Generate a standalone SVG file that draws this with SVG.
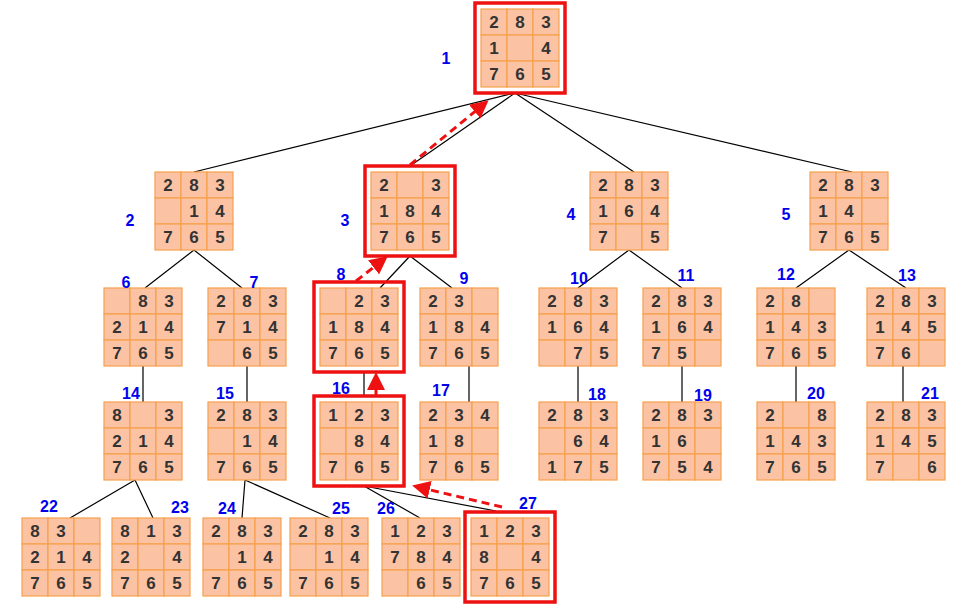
<svg xmlns="http://www.w3.org/2000/svg" width="975" height="610" viewBox="0 0 975 610">
<defs>
<style>
.c{fill:#fbc2a4;stroke:#f7a04c;stroke-width:1.2}
.t{font-family:"Liberation Sans",Arial,sans-serif;font-weight:bold;font-size:17px;fill:#333;text-anchor:middle}
.l{font-family:"Liberation Sans",Arial,sans-serif;font-weight:bold;font-size:16px;fill:#0000ee;text-anchor:middle}
.hl{fill:none;stroke:#ee1111;stroke-width:3.5}
.e{stroke:#000;stroke-width:1.2;fill:none}
.d{stroke:#ee1111;stroke-width:3;stroke-dasharray:8,5;fill:none;marker-end:url(#ah)}
</style>
<marker id="ah" markerWidth="6" markerHeight="6" refX="4" refY="3" orient="auto" markerUnits="strokeWidth"><path d="M0,0L6,3L0,6Z" fill="#ee1111"/></marker>
<g id="cell">
<rect class="c" x="0" y="0" width="26" height="26"/><rect class="c" x="26" y="0" width="26" height="26"/><rect class="c" x="52" y="0" width="26" height="26"/>
<rect class="c" x="0" y="26" width="26" height="26"/><rect class="c" x="26" y="26" width="26" height="26"/><rect class="c" x="52" y="26" width="26" height="26"/>
<rect class="c" x="0" y="52" width="26" height="26"/><rect class="c" x="26" y="52" width="26" height="26"/><rect class="c" x="52" y="52" width="26" height="26"/>
</g>
</defs>
<rect width="975" height="610" fill="#fff"/>
<g id="connectors">
<path class="e" d="M515,93L194,172M515,93L410,166M515,93L634,172M515,93L852,172"/>
<path class="e" d="M194,250L145,288M194,250L242,288M410,256L380,288M410,256L452,288M629,250L578,288M629,250L682,288M849,250L796,288M849,250L906,288"/>
<path class="e" d="M143,366V402M247,366V402M364,372V396M469,366V402M578,366V402M682,366V402M796,366V402M903,366V402"/>
<path class="e" d="M135,480L70,518M135,480L153,518M245,480L242,518M245,480L330,518M364,486L420,518M364,486L496,511"/>
<path class="d" d="M502,507L418,487"/>
<path class="d" d="M376,397L376,378"/>
<path class="d" d="M356,281L383,260"/>
<path class="d" d="M410,165L484,104"/>
</g>
<g id="n1"><use href="#cell" x="481" y="9"/><rect class="hl" x="475" y="3" width="90" height="90"/><text class="t" x="494" y="28">2</text><text class="t" x="520" y="28">8</text><text class="t" x="546" y="28">3</text><text class="t" x="494" y="54">1</text><text class="t" x="546" y="54">4</text><text class="t" x="494" y="80">7</text><text class="t" x="520" y="80">6</text><text class="t" x="546" y="80">5</text><text class="l" x="446" y="64">1</text></g>
<g id="n2"><use href="#cell" x="155" y="172"/><text class="t" x="168" y="191">2</text><text class="t" x="194" y="191">8</text><text class="t" x="220" y="191">3</text><text class="t" x="194" y="217">1</text><text class="t" x="220" y="217">4</text><text class="t" x="168" y="243">7</text><text class="t" x="194" y="243">6</text><text class="t" x="220" y="243">5</text><text class="l" x="130" y="226">2</text></g>
<g id="n3"><use href="#cell" x="371" y="172"/><rect class="hl" x="365" y="166" width="90" height="90"/><text class="t" x="384" y="191">2</text><text class="t" x="436" y="191">3</text><text class="t" x="384" y="217">1</text><text class="t" x="410" y="217">8</text><text class="t" x="436" y="217">4</text><text class="t" x="384" y="243">7</text><text class="t" x="410" y="243">6</text><text class="t" x="436" y="243">5</text><text class="l" x="345" y="226">3</text></g>
<g id="n4"><use href="#cell" x="590" y="172"/><text class="t" x="603" y="191">2</text><text class="t" x="629" y="191">8</text><text class="t" x="655" y="191">3</text><text class="t" x="603" y="217">1</text><text class="t" x="629" y="217">6</text><text class="t" x="655" y="217">4</text><text class="t" x="603" y="243">7</text><text class="t" x="655" y="243">5</text><text class="l" x="571" y="220">4</text></g>
<g id="n5"><use href="#cell" x="810" y="172"/><text class="t" x="823" y="191">2</text><text class="t" x="849" y="191">8</text><text class="t" x="875" y="191">3</text><text class="t" x="823" y="217">1</text><text class="t" x="849" y="217">4</text><text class="t" x="823" y="243">7</text><text class="t" x="849" y="243">6</text><text class="t" x="875" y="243">5</text><text class="l" x="786" y="220">5</text></g>
<g id="n6"><use href="#cell" x="104" y="288"/><text class="t" x="143" y="307">8</text><text class="t" x="169" y="307">3</text><text class="t" x="117" y="333">2</text><text class="t" x="143" y="333">1</text><text class="t" x="169" y="333">4</text><text class="t" x="117" y="359">7</text><text class="t" x="143" y="359">6</text><text class="t" x="169" y="359">5</text><text class="l" x="126" y="288">6</text></g>
<g id="n7"><use href="#cell" x="208" y="288"/><text class="t" x="221" y="307">2</text><text class="t" x="247" y="307">8</text><text class="t" x="273" y="307">3</text><text class="t" x="221" y="333">7</text><text class="t" x="247" y="333">1</text><text class="t" x="273" y="333">4</text><text class="t" x="247" y="359">6</text><text class="t" x="273" y="359">5</text><text class="l" x="254" y="288">7</text></g>
<g id="n8"><use href="#cell" x="320" y="288"/><rect class="hl" x="314" y="282" width="90" height="90"/><text class="t" x="359" y="307">2</text><text class="t" x="385" y="307">3</text><text class="t" x="333" y="333">1</text><text class="t" x="359" y="333">8</text><text class="t" x="385" y="333">4</text><text class="t" x="333" y="359">7</text><text class="t" x="359" y="359">6</text><text class="t" x="385" y="359">5</text><text class="l" x="341" y="280">8</text></g>
<g id="n9"><use href="#cell" x="420" y="288"/><text class="t" x="433" y="307">2</text><text class="t" x="459" y="307">3</text><text class="t" x="433" y="333">1</text><text class="t" x="459" y="333">8</text><text class="t" x="485" y="333">4</text><text class="t" x="433" y="359">7</text><text class="t" x="459" y="359">6</text><text class="t" x="485" y="359">5</text><text class="l" x="464" y="284">9</text></g>
<g id="n10"><use href="#cell" x="539" y="288"/><text class="t" x="552" y="307">2</text><text class="t" x="578" y="307">8</text><text class="t" x="604" y="307">3</text><text class="t" x="552" y="333">1</text><text class="t" x="578" y="333">6</text><text class="t" x="604" y="333">4</text><text class="t" x="578" y="359">7</text><text class="t" x="604" y="359">5</text><text class="l" x="579" y="284">10</text></g>
<g id="n11"><use href="#cell" x="643" y="288"/><text class="t" x="656" y="307">2</text><text class="t" x="682" y="307">8</text><text class="t" x="708" y="307">3</text><text class="t" x="656" y="333">1</text><text class="t" x="682" y="333">6</text><text class="t" x="708" y="333">4</text><text class="t" x="656" y="359">7</text><text class="t" x="682" y="359">5</text><text class="l" x="686" y="281">11</text></g>
<g id="n12"><use href="#cell" x="757" y="288"/><text class="t" x="770" y="307">2</text><text class="t" x="796" y="307">8</text><text class="t" x="770" y="333">1</text><text class="t" x="796" y="333">4</text><text class="t" x="822" y="333">3</text><text class="t" x="770" y="359">7</text><text class="t" x="796" y="359">6</text><text class="t" x="822" y="359">5</text><text class="l" x="786" y="280">12</text></g>
<g id="n13"><use href="#cell" x="867" y="288"/><text class="t" x="880" y="307">2</text><text class="t" x="906" y="307">8</text><text class="t" x="932" y="307">3</text><text class="t" x="880" y="333">1</text><text class="t" x="906" y="333">4</text><text class="t" x="932" y="333">5</text><text class="t" x="880" y="359">7</text><text class="t" x="906" y="359">6</text><text class="l" x="907" y="281">13</text></g>
<g id="n14"><use href="#cell" x="104" y="402"/><text class="t" x="117" y="421">8</text><text class="t" x="169" y="421">3</text><text class="t" x="117" y="447">2</text><text class="t" x="143" y="447">1</text><text class="t" x="169" y="447">4</text><text class="t" x="117" y="473">7</text><text class="t" x="143" y="473">6</text><text class="t" x="169" y="473">5</text><text class="l" x="131" y="399">14</text></g>
<g id="n15"><use href="#cell" x="208" y="402"/><text class="t" x="221" y="421">2</text><text class="t" x="247" y="421">8</text><text class="t" x="273" y="421">3</text><text class="t" x="247" y="447">1</text><text class="t" x="273" y="447">4</text><text class="t" x="221" y="473">7</text><text class="t" x="247" y="473">6</text><text class="t" x="273" y="473">5</text><text class="l" x="225" y="399">15</text></g>
<g id="n16"><use href="#cell" x="320" y="402"/><rect class="hl" x="314" y="396" width="90" height="90"/><text class="t" x="333" y="421">1</text><text class="t" x="359" y="421">2</text><text class="t" x="385" y="421">3</text><text class="t" x="359" y="447">8</text><text class="t" x="385" y="447">4</text><text class="t" x="333" y="473">7</text><text class="t" x="359" y="473">6</text><text class="t" x="385" y="473">5</text><text class="l" x="341" y="394">16</text></g>
<g id="n17"><use href="#cell" x="420" y="402"/><text class="t" x="433" y="421">2</text><text class="t" x="459" y="421">3</text><text class="t" x="485" y="421">4</text><text class="t" x="433" y="447">1</text><text class="t" x="459" y="447">8</text><text class="t" x="433" y="473">7</text><text class="t" x="459" y="473">6</text><text class="t" x="485" y="473">5</text><text class="l" x="441" y="396">17</text></g>
<g id="n18"><use href="#cell" x="539" y="402"/><text class="t" x="552" y="421">2</text><text class="t" x="578" y="421">8</text><text class="t" x="604" y="421">3</text><text class="t" x="578" y="447">6</text><text class="t" x="604" y="447">4</text><text class="t" x="552" y="473">1</text><text class="t" x="578" y="473">7</text><text class="t" x="604" y="473">5</text><text class="l" x="597" y="400">18</text></g>
<g id="n19"><use href="#cell" x="643" y="402"/><text class="t" x="656" y="421">2</text><text class="t" x="682" y="421">8</text><text class="t" x="708" y="421">3</text><text class="t" x="656" y="447">1</text><text class="t" x="682" y="447">6</text><text class="t" x="656" y="473">7</text><text class="t" x="682" y="473">5</text><text class="t" x="708" y="473">4</text><text class="l" x="703" y="401">19</text></g>
<g id="n20"><use href="#cell" x="757" y="402"/><text class="t" x="770" y="421">2</text><text class="t" x="822" y="421">8</text><text class="t" x="770" y="447">1</text><text class="t" x="796" y="447">4</text><text class="t" x="822" y="447">3</text><text class="t" x="770" y="473">7</text><text class="t" x="796" y="473">6</text><text class="t" x="822" y="473">5</text><text class="l" x="816" y="399">20</text></g>
<g id="n21"><use href="#cell" x="867" y="402"/><text class="t" x="880" y="421">2</text><text class="t" x="906" y="421">8</text><text class="t" x="932" y="421">3</text><text class="t" x="880" y="447">1</text><text class="t" x="906" y="447">4</text><text class="t" x="932" y="447">5</text><text class="t" x="880" y="473">7</text><text class="t" x="932" y="473">6</text><text class="l" x="930" y="399">21</text></g>
<g id="n22"><use href="#cell" x="22" y="518"/><text class="t" x="35" y="537">8</text><text class="t" x="61" y="537">3</text><text class="t" x="35" y="563">2</text><text class="t" x="61" y="563">1</text><text class="t" x="87" y="563">4</text><text class="t" x="35" y="589">7</text><text class="t" x="61" y="589">6</text><text class="t" x="87" y="589">5</text><text class="l" x="49" y="512">22</text></g>
<g id="n23"><use href="#cell" x="112" y="518"/><text class="t" x="125" y="537">8</text><text class="t" x="151" y="537">1</text><text class="t" x="177" y="537">3</text><text class="t" x="125" y="563">2</text><text class="t" x="177" y="563">4</text><text class="t" x="125" y="589">7</text><text class="t" x="151" y="589">6</text><text class="t" x="177" y="589">5</text><text class="l" x="180" y="513">23</text></g>
<g id="n24"><use href="#cell" x="203" y="518"/><text class="t" x="216" y="537">2</text><text class="t" x="242" y="537">8</text><text class="t" x="268" y="537">3</text><text class="t" x="242" y="563">1</text><text class="t" x="268" y="563">4</text><text class="t" x="216" y="589">7</text><text class="t" x="242" y="589">6</text><text class="t" x="268" y="589">5</text><text class="l" x="227" y="514">24</text></g>
<g id="n25"><use href="#cell" x="290" y="518"/><text class="t" x="303" y="537">2</text><text class="t" x="329" y="537">8</text><text class="t" x="355" y="537">3</text><text class="t" x="329" y="563">1</text><text class="t" x="355" y="563">4</text><text class="t" x="303" y="589">7</text><text class="t" x="329" y="589">6</text><text class="t" x="355" y="589">5</text><text class="l" x="341" y="514">25</text></g>
<g id="n26"><use href="#cell" x="382" y="518"/><text class="t" x="395" y="537">1</text><text class="t" x="421" y="537">2</text><text class="t" x="447" y="537">3</text><text class="t" x="395" y="563">7</text><text class="t" x="421" y="563">8</text><text class="t" x="447" y="563">4</text><text class="t" x="421" y="589">6</text><text class="t" x="447" y="589">5</text><text class="l" x="386" y="514">26</text></g>
<g id="n27"><use href="#cell" x="471" y="518"/><rect class="hl" x="465" y="512" width="90" height="90"/><text class="t" x="484" y="537">1</text><text class="t" x="510" y="537">2</text><text class="t" x="536" y="537">3</text><text class="t" x="484" y="563">8</text><text class="t" x="536" y="563">4</text><text class="t" x="484" y="589">7</text><text class="t" x="510" y="589">6</text><text class="t" x="536" y="589">5</text><text class="l" x="528" y="509">27</text></g>
</svg>
